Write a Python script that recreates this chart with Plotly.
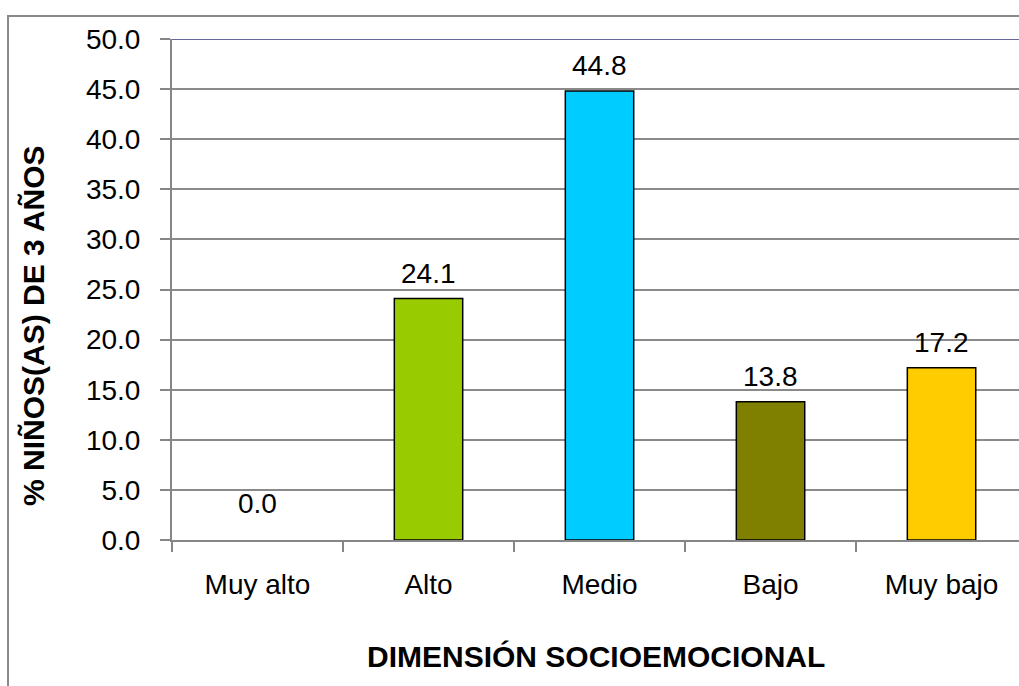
import plotly.graph_objects as go

categories = ["Muy alto", "Alto", "Medio", "Bajo", "Muy bajo"]
values = [0.0, 24.1, 44.8, 13.8, 17.2]
bar_colors = ["#FF0000", "#99CC00", "#00CCFF", "#808000", "#FFCC00"]
y_ticks = [0, 5, 10, 15, 20, 25, 30, 35, 40, 45, 50]
x_title = "DIMENSIÓN SOCIOEMOCIONAL"
y_title = "% NIÑOS(AS) DE 3 AÑOS"

FONT = "Liberation Sans, Arial, sans-serif"

fig = go.Figure()
fig.add_trace(go.Bar(
    x=categories, y=values, width=0.4,
    marker=dict(color=bar_colors,
                line=dict(color="black", width=[0 if v == 0 else 1.5 for v in values])),
    showlegend=False, hoverinfo="skip",
))

for c, v in zip(categories, values):
    fig.add_annotation(
        x=c, y=v, text=f"{v:.1f}", showarrow=False,
        yanchor="bottom", yshift=(19 if v == 0 else 8),
        font=dict(family=FONT, size=28, color="black"),
    )

# axis titles
fig.add_annotation(
    xref="paper", yref="paper", x=0.5006, y=-0.2335,
    text=f"<b>{x_title}</b>", showarrow=False,
    xanchor="center", yanchor="middle",
    font=dict(family=FONT, size=30, color="black"),
)
fig.add_annotation(
    xref="paper", yref="paper", x=-0.1641, y=0.4271,
    text=f"<b>{y_title}</b>", showarrow=False, textangle=-90,
    xanchor="center", yanchor="middle",
    font=dict(family=FONT, size=30, color="black"),
)

fig.update_layout(
    width=1019, height=686,
    margin=dict(l=172, r=0, t=39, b=146),
    paper_bgcolor="white", plot_bgcolor="white",
    font=dict(family=FONT, size=28, color="black"),
    xaxis=dict(
        range=[-0.5, 4.453], type="category",
        tickson="boundaries", ticks="outside", ticklen=10, tickwidth=1.5,
        tickcolor="#868686", showline=True, linecolor="#868686", linewidth=2,
        showgrid=False, ticklabelstandoff=18,
        tickfont=dict(family=FONT, size=28, color="black"),
    ),
    yaxis=dict(
        range=[0, 50], tickvals=y_ticks, tickformat=".1f",
        ticks="outside", ticklen=10, tickwidth=1.5, tickcolor="#868686",
        showline=True, linecolor="#868686", linewidth=2,
        showgrid=True, gridcolor="#8a8a8a", gridwidth=1.5,
        zeroline=False, ticklabelstandoff=14,
        tickfont=dict(family=FONT, size=28, color="black"),
    ),
    shapes=[
        dict(type="line", xref="paper", yref="y", x0=0, x1=1, y0=50, y1=50,
             line=dict(color="#666699", width=2)),
        dict(type="rect", xref="paper", yref="paper",
             x0=-0.1936, x1=1.2, y0=-0.6, y1=1.0459,
             line=dict(color="#8a8a8a", width=2), fillcolor="rgba(0,0,0,0)"),
    ],
)

fig.write_html(
    "out.html",
    config={"displayModeBar": False},
    post_script="document.body.style.margin='0';document.body.style.overflow='hidden';",
)
